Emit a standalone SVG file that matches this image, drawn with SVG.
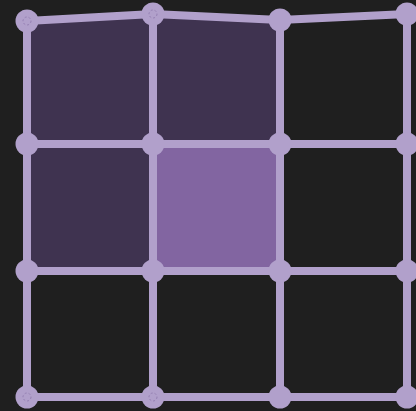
<svg xmlns="http://www.w3.org/2000/svg" width="416" height="411" viewBox="0 0 416 411">
<style>
.edge{stroke:#b1a0cb;stroke-width:8;fill:none;stroke-linecap:round}
.node{fill:#b1a0cb}
.mark{fill:none;stroke:#9580b3;stroke-width:1;stroke-dasharray:2 2}
.dark{fill:#3f3350}
.mid{fill:#8265a1}
</style>
<rect width="416" height="411" fill="#1f1f1f"/>
<g id="cells">
<polygon class="dark" points="27,21 153,14 153,144 27,144"/>
<polygon class="dark" points="153,14 280,20 280,144 153,144"/>
<polygon class="dark" points="27,144 153,144 153,271 27,271"/>
<polygon class="mid" points="153,144 280,144 280,271 153,271"/>
</g>
<g id="connectors">
<polyline class="edge" points="27,21 153,14 280,20 407,14"/>
<line class="edge" x1="27" y1="144" x2="407" y2="144"/>
<line class="edge" x1="27" y1="271" x2="407" y2="271"/>
<line class="edge" x1="27" y1="397" x2="407" y2="397"/>
<line class="edge" x1="27" y1="21" x2="27" y2="397"/>
<line class="edge" x1="153" y1="14" x2="153" y2="397"/>
<line class="edge" x1="280" y1="20" x2="280" y2="397"/>
<line class="edge" x1="407" y1="14" x2="407" y2="397"/>
</g>
<g id="n00"><circle class="node" cx="27" cy="21" r="11.5"/><circle class="mark" cx="27" cy="21" r="4"/></g>
<g id="n01"><circle class="node" cx="153" cy="14" r="11.5"/><circle class="mark" cx="153" cy="14" r="4"/></g>
<g id="n02"><circle class="node" cx="280" cy="20" r="11.5"/></g>
<g id="n03"><circle class="node" cx="407" cy="14" r="11.5"/></g>
<g id="n10"><circle class="node" cx="27" cy="144" r="11.5"/></g>
<g id="n11"><circle class="node" cx="153" cy="144" r="11.5"/></g>
<g id="n12"><circle class="node" cx="280" cy="144" r="11.5"/></g>
<g id="n13"><circle class="node" cx="407" cy="144" r="11.5"/></g>
<g id="n20"><circle class="node" cx="27" cy="271" r="11.5"/></g>
<g id="n21"><circle class="node" cx="153" cy="271" r="11.5"/></g>
<g id="n22"><circle class="node" cx="280" cy="271" r="11.5"/></g>
<g id="n23"><circle class="node" cx="407" cy="271" r="11.5"/></g>
<g id="n30"><circle class="node" cx="27" cy="397" r="11.5"/><circle class="mark" cx="27" cy="397" r="4"/></g>
<g id="n31"><circle class="node" cx="153" cy="397" r="11.5"/><circle class="mark" cx="153" cy="397" r="4"/></g>
<g id="n32"><circle class="node" cx="280" cy="397" r="11.5"/></g>
<g id="n33"><circle class="node" cx="407" cy="397" r="11.5"/></g>
</svg>
